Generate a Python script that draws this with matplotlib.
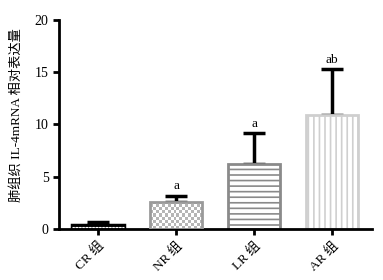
import numpy as np
import matplotlib
matplotlib.use("Agg")
import matplotlib.pyplot as plt

categories = ["CR 组", "NR 组", "LR 组", "AR 组"]
means = [0.4, 2.6, 6.2, 10.9]
errors = [0.3, 0.6, 3.0, 4.4]
labels = ["", "a", "a", "ab"]
yticks = [0, 5, 10, 15, 20]

fam = ["Liberation Serif", "Noto Sans CJK SC"]
plt.rcParams["font.family"] = fam
plt.rcParams["hatch.linewidth"] = 1.2

fig = plt.figure(figsize=(3.83, 2.80), dpi=100)
ax = fig.add_axes([0.154, 0.182, 0.817, 0.747])

x = np.arange(len(categories))
edgecolors = ["black", "#9a9a9a", "#8a8a8a", "#cfcfcf"]
hatches = ["", "", "---", "|||"]
lws = [2.5, 2.0, 2.0, 2.0]
bars = ax.bar(x, means, width=0.67, color="white", edgecolor=edgecolors,
              linewidth=0, zorder=2)
for b, ec, h, lw in zip(bars, edgecolors, hatches, lws):
    b.set_hatch(h)
    b.set_linewidth(lw)

# CR: dotted line inside black bar
b0 = bars[0]
ax.plot([b0.get_x(), b0.get_x() + b0.get_width()],
        [b0.get_height() / 2, b0.get_height() / 2],
        color="white", lw=0.8, ls=(0, (2, 1)), zorder=3)

# NR: checkerboard fill
b1 = bars[1]
n_x, n_y = 18, 9
checker = (np.add.outer(np.arange(n_y), np.arange(n_x)) % 2).astype(float)
im = ax.imshow(checker, cmap=matplotlib.colors.ListedColormap(["white", "#b5b5b5"]),
               extent=[b1.get_x(), b1.get_x() + b1.get_width(), 0, b1.get_height()],
               aspect="auto", interpolation="nearest", zorder=2.5)
im.set_clip_path(b1)
b1.set_zorder(3)
b1.set_facecolor("none")

ax.errorbar(x, means, yerr=[np.zeros(len(errors)), errors], fmt="none",
            ecolor="black", elinewidth=2.5, capsize=8, capthick=2.5, zorder=1)

for xi, m, e, t in zip(x, means, errors, labels):
    if t:
        ax.text(xi, m + e + 0.3, t, ha="center", va="bottom", fontsize=9.5,
                family=fam)

ax.set_xlim(-0.5, 3.51)
ax.set_ylim(0, 20)
ax.set_yticks(yticks)
ax.set_xticks(x)
ax.set_xticklabels(categories, rotation=45, ha="right", rotation_mode="anchor",
                   fontsize=9.5)
ax.tick_params(axis="y", labelsize=10, width=2, length=4)
ax.tick_params(axis="x", width=2, length=4)
for s in ["top", "right"]:
    ax.spines[s].set_visible(False)
for s in ["left", "bottom"]:
    ax.spines[s].set_linewidth(2)
ax.set_ylabel("肺组织 IL-4mRNA 相对表达量", fontsize=9.5)
ax.yaxis.set_label_coords(-0.115, 0.545)

fig.savefig("out.png", dpi=100)
